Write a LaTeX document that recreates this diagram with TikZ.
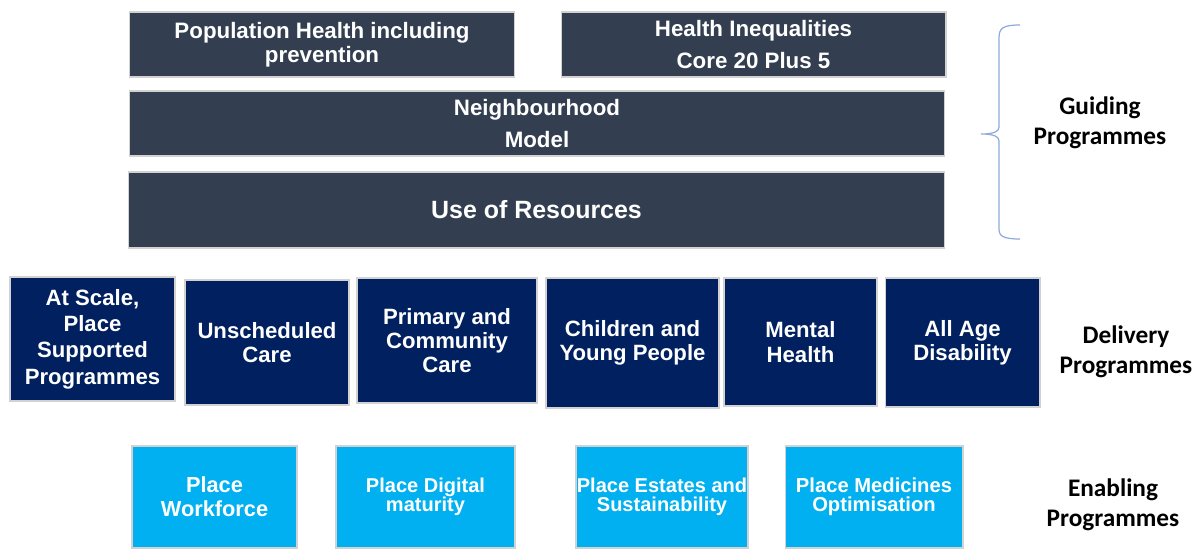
\documentclass[tikz,border=0pt]{standalone}
\usepackage{fontspec}
\setmainfont{Liberation Sans}
\newfontfamily\labelfont{Carlito}
\definecolor{slate}{HTML}{333F50}
\definecolor{navy}{HTML}{002060}
\definecolor{sky}{HTML}{00B0F0}
\definecolor{bracecol}{HTML}{8FAADC}
\begin{document}
\begin{tikzpicture}[x=0.02cm,y=-0.02cm,
    box/.style={draw=gray!35,line width=0.6pt,text=white,align=center,font=\bfseries,inner sep=0pt},
    guidebox/.style={box,fill=slate,minimum height=1.3cm},
    delivbox/.style={box,fill=navy,font=\bfseries\fontsize{12.6}{13.8}\selectfont},
    enabox/.style={box,fill=sky,minimum height=2.04cm},
    grouplabel/.style={align=center,font=\labelfont\bfseries\fontsize{14.4}{17}\selectfont}]
  \useasboundingbox (0,0) rectangle (1196,548);
  % guiding programmes
  \node[guidebox,minimum width=7.72cm,font=\bfseries\fontsize{12.7}{13.6}\selectfont] (pop) at (322,44.5) {Population Health including\\prevention};
  \node[guidebox,minimum width=7.70cm,font=\bfseries\fontsize{12.7}{18.7}\selectfont] (ineq) at (753.5,44.5) {Health Inequalities\\Core 20 Plus 5};
  \node[guidebox,minimum width=16.32cm,font=\bfseries\fontsize{12.7}{18.7}\selectfont] (neigh) at (537,123.5) {Neighbourhood\\Model};
  \node[guidebox,minimum width=16.34cm,minimum height=1.52cm,font=\bfseries\fontsize{14.2}{16}\selectfont] (res) at (536.5,210) {Use of Resources};
  % delivery programmes
  \node[delivbox,minimum width=3.3cm,minimum height=2.48cm,font=\bfseries\fontsize{12.6}{15}\selectfont] (scale) at (92.5,339) {At Scale,\\Place\\Supported\\Programmes};
  \node[delivbox,minimum width=3.28cm,minimum height=2.5cm] (unsched) at (267,342.5) {Unscheduled\\Care};
  \node[delivbox,minimum width=3.6cm,minimum height=2.5cm] (primary) at (447,340.5) {Primary and\\Community\\Care};
  \node[delivbox,minimum width=3.46cm,minimum height=2.6cm] (children) at (632.5,343) {Children and\\Young People};
  \node[delivbox,minimum width=3.06cm,minimum height=2.56cm] (mental) at (800.5,342) {Mental\\Health};
  \node[delivbox,minimum width=3.1cm,minimum height=2.58cm] (allage) at (962.5,342.5) {All Age\\Disability};
  % enabling programmes
  \node[enabox,minimum width=3.3cm,font=\bfseries\fontsize{12.4}{13.6}\selectfont] (workforce) at (214.5,497) {Place\\Workforce};
  \node[enabox,minimum width=3.58cm,font=\bfseries\fontsize{11.4}{10.8}\selectfont] (digital) at (425.5,497) {Place Digital\\maturity};
  \node[enabox,minimum width=3.44cm,font=\bfseries\fontsize{11.4}{10.8}\selectfont] (estates) at (662,497) {Place Estates and\\Sustainability};
  \node[enabox,minimum width=3.56cm,font=\bfseries\fontsize{11.5}{10.8}\selectfont] (medicines) at (874,497) {Place Medicines\\Optimisation};
  % group labels
  \coordinate (bracetop) at (1020,25);
  \coordinate (bracetip) at (981,134);
  \coordinate (bracebot) at (1020,239);
  \draw[bracecol,line width=0.7pt] (bracetop) .. controls (1003,25) and (999,28) .. (999,38)
      -- (999,127) .. controls (999,131) and (995,134) .. (bracetip)
      .. controls (995,134) and (999,137) .. (999,141)
      -- (999,229) .. controls (999,236) and (1003,239) .. (bracebot);
  \node[grouplabel] (guiding) at (1100,123) {Guiding\\Programmes};
  \node[grouplabel] (delivery) at (1126,352) {Delivery\\Programmes};
  \node[grouplabel] (enabling) at (1113,505) {Enabling\\Programmes};
\end{tikzpicture}
\end{document}
